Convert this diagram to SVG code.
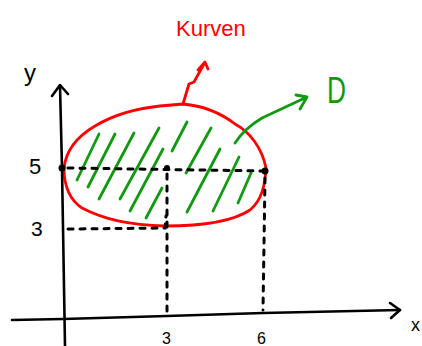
<svg xmlns="http://www.w3.org/2000/svg" width="422" height="346" viewBox="0 0 422 346">
<style>
.ax{fill:none;stroke:#000;stroke-width:2.6;stroke-linecap:round;stroke-linejoin:round}
.dash{fill:none;stroke:#000;stroke-width:3;stroke-linecap:round;stroke-dasharray:5 7}
.red{fill:none;stroke:#f00;stroke-width:2.8;stroke-linecap:round;stroke-linejoin:round}
.grn{fill:none;stroke:#119911;stroke-width:2.8;stroke-linecap:round;stroke-linejoin:round}
.lbl{font-family:"Liberation Sans",Arial,sans-serif;fill:#000}
</style>
<rect width="422" height="346" fill="#fff"/>
<g id="hatching">
<path class="grn" d="M77 180L99 134M88 187L115 134M99 199L134 133M120 199L159 128M130 211L163 149M146 218L162 188M172 151L187 122M186 173L211 128M187 212L220 149M213 211L239 157M238 203L251 173"/>
</g>
<g id="curve">
<path class="red" d="M64 168C66 150 78 136 95 126C115 114 140 108 160 106L183 104C205 106 222 114 235 124C250 132 262 148 266 168C265 185 262 200 250 210C235 220 210 226 165 226C130 225 105 220 82 208C70 200 64 188 64 168Z"/>
<path class="red" d="M183 104L189 84L194 82L204 64M198 70L205 62L208 69"/>
</g>
<g id="axes">
<path class="ax" d="M60 86L62 168L65 346"/>
<path class="ax" d="M52 96L60 85L68 94"/>
<path class="ax" d="M12 320L63 319L167 316L263 313L400 310"/>
<path class="ax" d="M390 303L400 310L391 318"/>
</g>
<g id="guides">
<path class="dash" d="M68 168L266 171"/>
<path class="dash" d="M167 174L167 316"/>
<path class="dash" d="M68 229L165 228L166 216"/>
<path class="dash" d="M265 178L263 310"/>
<circle cx="62" cy="168" r="3.5" fill="#000"/>
<circle cx="167" cy="168" r="3" fill="#000"/>
<circle cx="265" cy="171" r="3.5" fill="#000"/>
</g>
<g id="D-arrow">
<path class="grn" d="M235 143C242 132 252 124 262 118L307 97M296 95L307 97L300 109"/>
</g>
<g id="labels">
<text class="lbl" x="176" y="36" font-size="22" style="fill:#f00">Kurven</text>
<text class="lbl" x="327" y="103" font-size="36" textLength="19" lengthAdjust="spacingAndGlyphs" style="fill:#119911">D</text>
<text class="lbl" x="24" y="81" font-size="24">y</text>
<text class="lbl" x="29" y="174" font-size="22">5</text>
<text class="lbl" x="31" y="236" font-size="21">3</text>
<text class="lbl" x="162" y="344" font-size="16">3</text>
<text class="lbl" x="257" y="344" font-size="16">6</text>
<text class="lbl" x="411" y="331" font-size="18">x</text>
</g>
</svg>
